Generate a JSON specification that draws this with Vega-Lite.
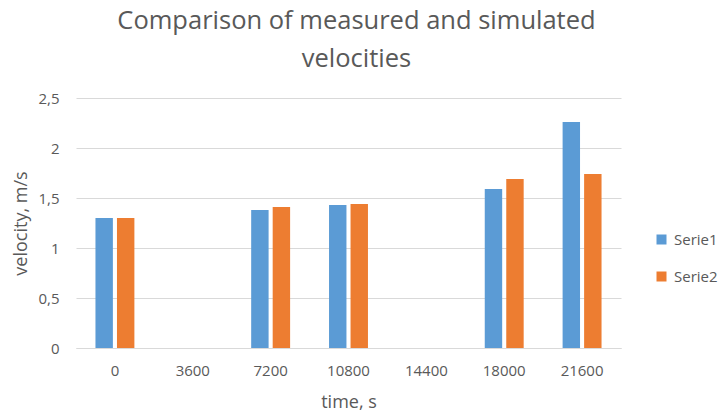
{
  "$schema": "https://vega.github.io/schema/vega-lite/v6.json",
  "width": 545,
  "height": 250,
  "autosize": {"type": "none"},
  "padding": {"left": 76, "top": 98, "right": 98, "bottom": 66},
  "background": "white",
  "title": {
    "text": ["Comparison of measured and simulated", "velocities"],
    "font": "Open Sans",
    "fontSize": 25.5,
    "fontWeight": "normal",
    "color": "#595959",
    "lineHeight": 38,
    "anchor": "middle",
    "frame": "group",
    "dx": 8,
    "offset": 19
  },
  "data": {
    "values": [
      {"time": "0", "series": "Serie1", "velocity": 1.30},
      {"time": "0", "series": "Serie2", "velocity": 1.30},
      {"time": "7200", "series": "Serie1", "velocity": 1.38},
      {"time": "7200", "series": "Serie2", "velocity": 1.41},
      {"time": "10800", "series": "Serie1", "velocity": 1.43},
      {"time": "10800", "series": "Serie2", "velocity": 1.44},
      {"time": "18000", "series": "Serie1", "velocity": 1.59},
      {"time": "18000", "series": "Serie2", "velocity": 1.69},
      {"time": "21600", "series": "Serie1", "velocity": 2.26},
      {"time": "21600", "series": "Serie2", "velocity": 1.74}
    ]
  },
  "mark": {"type": "bar"},
  "encoding": {
    "x": {
      "field": "time",
      "type": "nominal",
      "scale": {"domain": ["0", "3600", "7200", "10800", "14400", "18000", "21600"], "paddingInner": 0.5, "paddingOuter": 0.25},
      "axis": {
        "title": "time, s",
        "labelAngle": 0,
        "labelFont": "Open Sans",
        "labelFontSize": 15,
        "labelColor": "#595959",
        "labelPadding": 15,
        "ticks": false,
        "domainColor": "#d9d9d9",
        "domainWidth": 1,
        "titleFont": "Open Sans",
        "titleFontSize": 18,
        "titleFontWeight": "normal",
        "titleColor": "#595959",
        "titlePadding": 15
      }
    },
    "xOffset": {
      "field": "series",
      "type": "nominal",
      "scale": {"paddingInner": 0.19, "paddingOuter": 0}
    },
    "y": {
      "field": "velocity",
      "type": "quantitative",
      "scale": {"domain": [0, 2.5], "nice": false},
      "axis": {
        "title": "velocity, m/s",
        "values": [0, 0.5, 1, 1.5, 2, 2.5],
        "labelExpr": "replace(format(datum.value, '~g'), '.', ',')",
        "labelFont": "Open Sans",
        "labelFontSize": 15,
        "labelColor": "#595959",
        "labelPadding": 17,
        "ticks": false,
        "domain": false,
        "grid": true,
        "gridColor": "#d9d9d9",
        "gridWidth": 1,
        "titleFont": "Open Sans",
        "titleFontSize": 18,
        "titleFontWeight": "normal",
        "titleColor": "#595959",
        "titlePadding": 7
      }
    },
    "color": {
      "field": "series",
      "type": "nominal",
      "scale": {"domain": ["Serie1", "Serie2"], "range": ["#5B9BD5", "#ED7D31"]},
      "legend": {
        "title": null,
        "orient": "none",
        "legendX": 578,
        "legendY": 134,
        "padding": 0,
        "symbolType": "square",
        "symbolSize": 100,
        "symbolStrokeWidth": 0,
        "symbolOpacity": 1,
        "labelFont": "Open Sans",
        "labelFontSize": 15,
        "labelColor": "#595959",
        "labelOffset": 5,
        "rowPadding": 21
      }
    }
  },
  "config": {
    "view": {"stroke": null}
  }
}
